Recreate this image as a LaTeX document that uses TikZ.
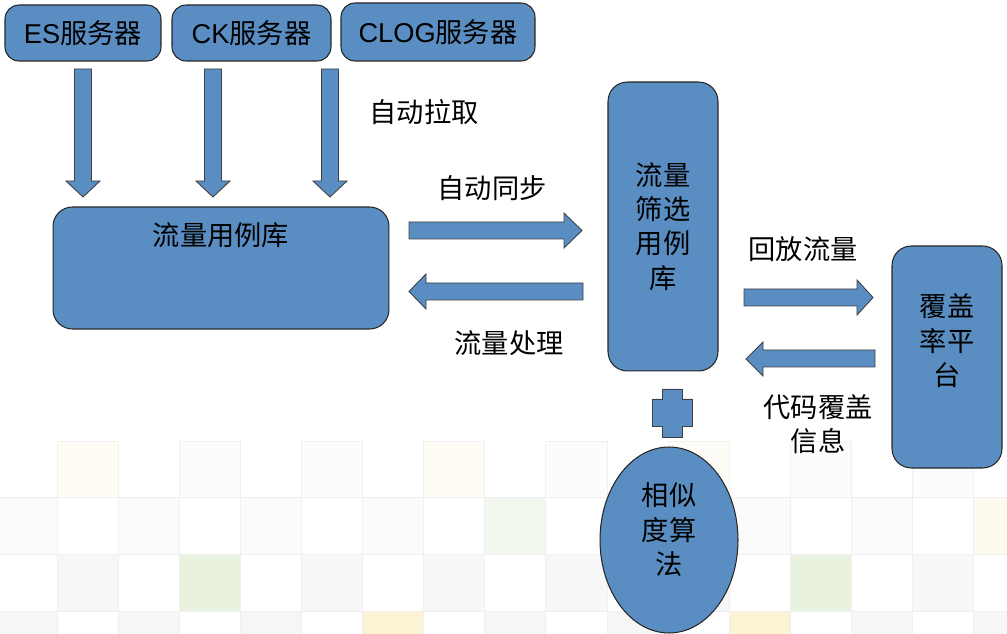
\documentclass[tikz,border=0pt]{standalone}
\usepackage{fontspec}
\setmainfont{Liberation Sans}
\newfontfamily\cjk{Noto Sans CJK SC}
\newfontfamily\lat{Liberation Sans}
\usetikzlibrary{shapes.geometric,positioning}
\definecolor{boxblue}{RGB}{90,142,194}
\definecolor{tilegreen}{RGB}{232,242,222}
\definecolor{tileyellow}{RGB}{252,242,212}

\begin{document}
\begin{tikzpicture}[x=0.02cm, y=-0.02cm,
  every node/.append style={font=\cjk\fontsize{15.5}{19.6}\selectfont, inner sep=0pt, align=center},
  box/.style={draw=black!85, fill=boxblue, line width=0.6pt, rounded corners=8pt},
  bigbox/.style={box, rounded corners=11pt},
  blockarrow/.style={draw=black!75, fill=boxblue, line width=0.5pt},
  tile/.style={draw=gray!12, line width=0.5pt}]
  \useasboundingbox (0,0) rectangle (1007,634);
  % fond
  \begin{scope}
    \clip (0,0) rectangle (1007,634);
    \foreach \r/\g in {0/2,1/3,2/6,3/7}
      \foreach \c in {0,...,16} {
        \ifodd\numexpr\c+\r\relax
          \filldraw[tile, fill=gray!\g] (\c*61.1-4, 441+\r*56.7) rectangle +(61.1,56.7);
        \fi
      }
    \foreach \c/\r/\col in {1/0/tileyellow!25, 7/0/tileyellow!25, 11/0/tileyellow!20, 8/1/tilegreen!50,
                           16/1/tileyellow!35, 3/2/tilegreen, 13/2/tilegreen, 6/3/tileyellow, 12/3/tileyellow}
      \filldraw[tile, fill=\col] (\c*61.1-4, 441+\r*56.7) rectangle +(61.1,56.7);
  \end{scope}
  % servidores
  \node[box, minimum width=3.12cm, minimum height=1.12cm] (es) at (83,33) {{\lat ES}服务器};
  \node[box, minimum width=3.18cm, minimum height=1.12cm] (ck) at (251.5,33) {{\lat CK}服务器};
  \node[box, minimum width=3.88cm, minimum height=1.16cm] (clog) at (438,32) {{\lat CLOG}服务器};
  \foreach \x in {83,213,330}
    \draw[blockarrow] (\x-8.5,69) -- (\x+8.5,69) -- (\x+8.5,181) -- (\x+17,181) -- (\x,197)
      -- (\x-17,181) -- (\x-8.5,181) -- cycle;
  \node (pull) at (424,112) {自动拉取};
  % librerias
  \node[bigbox, minimum width=6.72cm, minimum height=2.44cm] (lib) at (221,268) {};
  \node (libtext) at (221,235) {流量用例库};
  \node[bigbox, minimum width=2.2cm, minimum height=5.78cm] (filt) at (663,226.5) {流量\\筛选\\用例\\库};
  \node[bigbox, minimum width=2.2cm, minimum height=4.44cm] (cov) at (947,357) {};
  \node (covtext) at (947,341) {覆盖\\率平\\台};
  \node[ellipse, draw=black!85, fill=boxblue, line width=0.6pt, minimum width=2.76cm, minimum height=3.72cm] (algo) at (669,540) {};
  \node (algotext) at (669,530) {相似\\度算\\法};
  % flechas
  \draw[blockarrow] (409,222) -- (564,222) -- (564,213) -- (582,230.5) -- (564,248) -- (564,239) -- (409,239) -- cycle;
  \draw[blockarrow] (583,283) -- (426,283) -- (426,274) -- (409,291.5) -- (426,309) -- (426,300) -- (583,300) -- cycle;
  \draw[blockarrow] (744,289) -- (857,289) -- (857,280) -- (873,297.5) -- (857,315) -- (857,306) -- (744,306) -- cycle;
  \draw[blockarrow] (875,350) -- (763,350) -- (763,342) -- (746,359) -- (763,376) -- (763,367) -- (875,367) -- cycle;
  \node (sync) at (492,188) {自动同步};
  \node (proc) at (509,343) {流量处理};
  \node (replay) at (803,249) {回放流量};
  \node (info) at (818,424) {代码覆盖\\信息};
  % mas
  \draw[blockarrow] (662,389) -- (682,389) -- (682,399) -- (692,399) -- (692,426) -- (682,426) -- (682,437)
    -- (662,437) -- (662,426) -- (652,426) -- (652,399) -- (662,399) -- cycle;
\end{tikzpicture}
\end{document}
